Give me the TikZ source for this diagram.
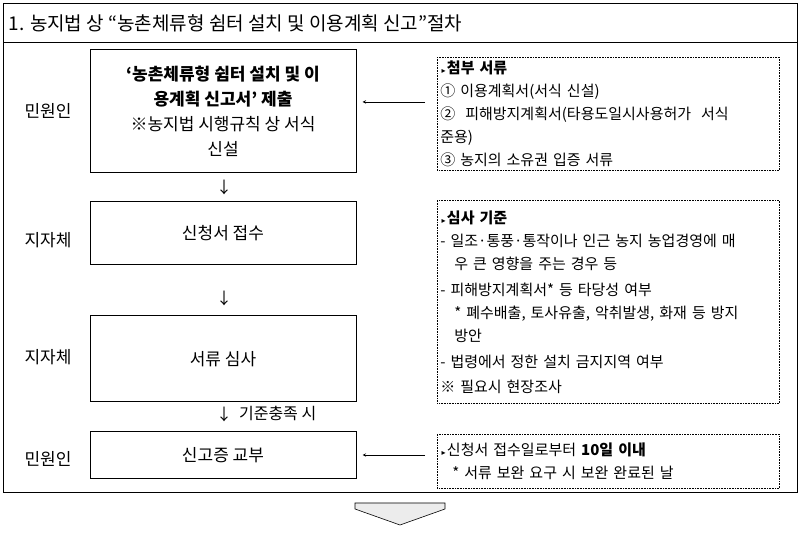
\documentclass[tikz,border=0pt]{standalone}
\usepackage{fontspec}
\setmainfont{Noto Sans CJK KR}
\newfontfamily\symfont{DejaVu Sans}
\usetikzlibrary{positioning}
\newcommand{\tri}{{\symfont\fontsize{8}{8}\selectfont\,▸\,}}
\begin{document}
\begin{tikzpicture}
[x=1pt,y=-1pt,
stepbox/.style={draw,line width=1pt,minimum width=266pt,align=center,font=\fontsize{17}{25}\selectfont},
actor/.style={font=\fontsize{17}{20}\selectfont},
notebox/.style={draw,densely dotted,line width=0.6pt,minimum width=342pt,text width=336pt,inner sep=3pt,align=left,anchor=north west,font=\fontsize{15}{23}\selectfont},
down/.style={font=\fontsize{16}{18}\selectfont}]
\useasboundingbox (0,0) rectangle (801,534);
% frame
\draw[line width=0.6pt] (3,3) rectangle (797,492);
\draw[line width=0.6pt] (3,42) -- (797,42);
\node[anchor=west,font=\fontsize{19}{22}\selectfont] (title) at (5,23) {1. 농지법 상 “농촌체류형 쉼터 설치 및 이용계획 신고”절차};
% steps
\node[stepbox,minimum height=123pt] (apply) at (223,111) {\textbf{‘농촌체류형 쉼터 설치 및 이}\\\textbf{용계획 신고서’ 제출}\\※농지법 시행규칙 상 서식\\신설};
\node[stepbox,minimum height=63pt] (receive) at (223,233) {신청서 접수};
\node[stepbox,minimum height=86pt] (review) at (223,359) {서류 심사};
\node[stepbox,minimum height=47pt] (issue) at (223,455) {신고증 교부};
\node[actor] (who1) at (48,111) {민원인};
\node[actor] (who2) at (48,240) {지자체};
\node[actor] (who3) at (48,357) {지자체};
\node[actor] (who4) at (48,459) {민원인};
\node[down] (d1) at (224,187) {↓};
\node[down] (d2) at (224,298) {↓};
\node[down] (d3) at (224,414) {↓};
\node[down,right=0pt of d3] (cond) {기준충족 시};
% notes
\node[notebox,minimum height=113pt] (docs) at (437,57) {\tri\textbf{첨부 서류}\\① 이용계획서(서식 신설)\\② \ 피해방지계획서(타용도일시사용허가 \ 서식\\준용)\\③ 농지의 소유권 입증 서류};
\node[notebox,minimum height=203pt] (rule) at (437,200) {\tri\textbf{심사 기준}\\
- 일조·통풍·통작이나 인근 농지 농업경영에 매\\\hspace*{14pt}우 큰 영향을 주는 경우 등\\[3pt]
- 피해방지계획서* 등 타당성 여부\\
\hspace*{14pt}* 폐수배출, 토사유출, 악취발생, 화재 등 방지\\\hspace*{14pt}방안\\[3pt]
- 법령에서 정한 설치 금지지역 여부\\[2pt]
※ 필요시 현장조사};
\node[notebox,minimum height=54pt] (term) at (437,434) {\tri 신청서 접수일로부터 \textbf{10일 이내}\\\hspace*{12pt}* 서류 보완 요구 시 보완 완료된 날};
\draw[-stealth,line width=0.6pt] ([xshift=-12pt]docs.west |- 0,102) -- ([xshift=6pt]apply.east |- 0,102);
\draw[-stealth,line width=0.6pt] ([xshift=-12pt]term.west |- 0,455) -- ([xshift=6pt]issue.east);
% bottom arrow
\draw[line width=0.6pt,fill=gray!15] (355,503) -- (445,503) -- (445,509) -- (400,525) -- (355,509) -- cycle;
\end{tikzpicture}
\end{document}
